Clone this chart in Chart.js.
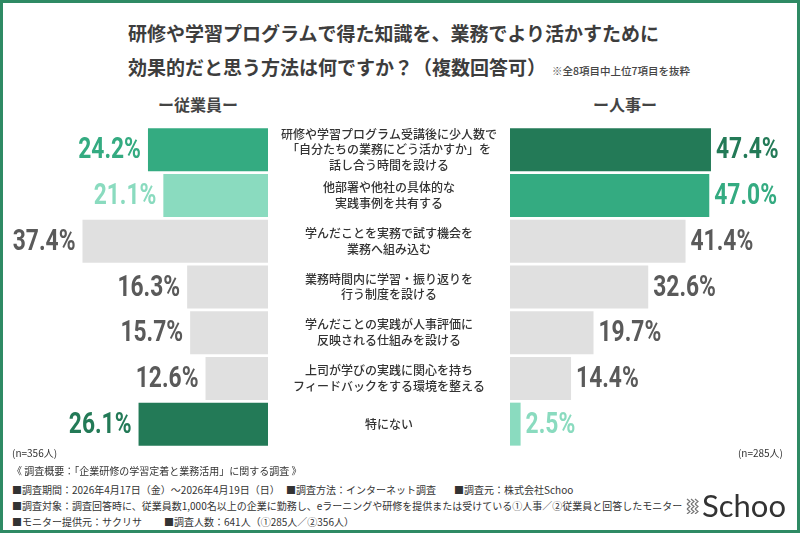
<!DOCTYPE html>
<html><head><meta charset="utf-8">
<script src="https://cdn.jsdelivr.net/npm/chart.js@4/dist/chart.umd.min.js"></script>
<style>
html,body{margin:0;padding:0;background:#fff;}
#page{position:relative;width:800px;height:533px;overflow:hidden;font-family:'Noto Sans CJK JP',sans-serif;color:#333;}
#frame{position:absolute;left:0;top:0;width:800px;height:533px;box-sizing:border-box;border:3px solid #2f8a64;pointer-events:none;}
.abs{position:absolute;white-space:nowrap;}
#title{left:128px;top:16px;font-size:19px;font-weight:700;line-height:34px;color:#3d3d3d;}
#title .note{font-size:10.5px;font-weight:500;margin-left:6px;color:#444;}
.hdr{font-size:16px;font-weight:700;color:#444;top:92px;}
.ft{font-size:10px;color:#333;line-height:14px;}
canvas{position:absolute;}
</style></head>
<body><div id="page">
<div id="title" class="abs">研修や学習プログラムで得た知識を、業務でより活かすために<br>効果的だと思う方法は何ですか？（複数回答可）<span class="note">※全8項目中上位7項目を抜粋</span></div>
<div class="abs hdr" style="left:158px;">ー従業員ー</div>
<div class="abs hdr" style="left:593px;">ー人事ー</div>
<canvas id="left" width="510" height="340" style="left:0;top:117px;"></canvas>
<canvas id="right" width="290" height="340" style="left:510px;top:117px;"></canvas>
<div class="abs ft" style="left:12px;top:446px;">(n=356人)</div>
<div class="abs ft" style="right:17px;top:446px;">(n=285人)</div>
<div class="abs ft" style="left:12px;top:464px;">《 調査概要：「企業研修の学習定着と業務活用」に関する調査 》</div>
<div class="abs ft" style="left:12px;top:483px;">■調査期間：2026年4月17日（金）～2026年4月19日（日）</div>
<div class="abs ft" style="left:286px;top:483px;">■調査方法：インターネット調査</div>
<div class="abs ft" style="left:454px;top:483px;">■調査元：株式会社Schoo</div>
<div class="abs ft" style="left:12px;top:499px;">■調査対象：調査回答時に、従業員数1,000名以上の企業に勤務し、eラーニングや研修を提供または受けている①人事／②従業員と回答したモニター</div>
<div class="abs ft" style="left:12px;top:515px;">■モニター提供元：サクリサ</div>
<div class="abs ft" style="left:164px;top:515px;">■調査人数：641人（①285人／②356人）</div>
<svg class="abs" style="left:686px;top:498px;" width="14" height="16" viewBox="0 0 14 16">
<g fill="none" stroke="#777" stroke-width="1.2">
<polyline points="1,1 4,3.5 1,6"/><polyline points="5,1 8,3.5 5,6"/><polyline points="9,1 12,3.5 9,6"/>
<polyline points="1,6 4,8.5 1,11"/><polyline points="5,6 8,8.5 5,11"/><polyline points="9,6 12,8.5 9,11"/>
<polyline points="1,11 4,13.5 1,16"/><polyline points="5,11 8,13.5 5,16"/><polyline points="9,11 12,13.5 9,16"/>
</g></svg>
<div class="abs" style="left:702px;top:487px;font-family:Lato,'Open Sans',sans-serif;font-size:31px;color:#333;line-height:36px;">Schoo</div>
<div id="frame"></div>
</div>
<script>
const categories = [
  ["研修や学習プログラム受講後に少人数で","「自分たちの業務にどう活かすか」を","話し合う時間を設ける"],
  ["他部署や他社の具体的な","実践事例を共有する"],
  ["学んだことを実務で試す機会を","業務へ組み込む"],
  ["業務時間内に学習・振り返りを","行う制度を設ける"],
  ["学んだことの実践が人事評価に","反映される仕組みを設ける"],
  ["上司が学びの実践に関心を持ち","フィードバックをする環境を整える"],
  "特にない"
];
const employeeValues = [24.2, 21.1, 37.4, 16.3, 15.7, 12.6, 26.1];
const hrValues = [47.4, 47.0, 41.4, 32.6, 19.7, 14.4, 2.5];

const DARK = '#237a57', MID = '#34ab81', LIGHT = '#8adbbf', GRAY = '#e0e0e0', GRAYTXT = '#5a5a5a';
const employeeColors = [MID, LIGHT, GRAY, GRAY, GRAY, GRAY, DARK];
const employeeLabelColors = [MID, LIGHT, GRAYTXT, GRAYTXT, GRAYTXT, GRAYTXT, DARK];
const hrColors = [DARK, MID, GRAY, GRAY, GRAY, GRAY, LIGHT];
const hrLabelColors = [DARK, MID, GRAYTXT, GRAYTXT, GRAYTXT, GRAYTXT, LIGHT];

const valueFont = "bold 30px Roboto, sans-serif";
const SQUEEZE = 0.76;

function valuePlugin(side, colors) {
  return {
    id: 'values_' + side,
    afterDatasetsDraw(chart) {
      const ctx = chart.ctx;
      const meta = chart.getDatasetMeta(0);
      const data = chart.data.datasets[0].data;
      meta.data.forEach((bar, i) => {
        const txt = data[i].toFixed(1) + '%';
        ctx.save();
        ctx.font = valueFont;
        ctx.textBaseline = 'middle';
        ctx.fillStyle = colors[i];
        const ax = side === 'left' ? bar.x - 7 : bar.x + 5;
        ctx.translate(ax, bar.y + 1);
        ctx.scale(SQUEEZE, 1);
        ctx.textAlign = side === 'left' ? 'right' : 'left';
        ctx.fillText(txt, 0, 0);
        ctx.restore();
      });
    }
  };
}

Chart.defaults.animation = false;

new Chart(document.getElementById('left'), {
  type: 'bar',
  data: { labels: categories, datasets: [{ data: employeeValues, backgroundColor: employeeColors, borderWidth: 0, barPercentage: 0.94, categoryPercentage: 1 }] },
  options: {
    indexAxis: 'y', responsive: false,
    layout: { padding: { left: 20, right: 0, top: 10, bottom: 10 } },
    plugins: { legend: { display: false }, tooltip: { enabled: false } },
    scales: {
      x: { display: false, reverse: true, min: 0, max: 50 },
      y: {
        position: 'right',
        grid: { display: false, drawTicks: false },
        border: { display: false },
        ticks: { autoSkip: false, crossAlign: 'center', padding: 13, color: '#333', font: { family: "'Noto Sans CJK JP'", size: 12, weight: 500, lineHeight: 1.3 } },
        afterFit(scale) { scale.width = 242; scale.paddingTop = 0; scale.paddingBottom = 0; }
      }
    }
  },
  plugins: [valuePlugin('left', employeeLabelColors)]
});

new Chart(document.getElementById('right'), {
  type: 'bar',
  data: { labels: categories, datasets: [{ data: hrValues, backgroundColor: hrColors, borderWidth: 0, barPercentage: 0.94, categoryPercentage: 1 }] },
  options: {
    indexAxis: 'y', responsive: false,
    layout: { padding: { left: 0, right: 78, top: 10, bottom: 10 } },
    plugins: { legend: { display: false }, tooltip: { enabled: false } },
    scales: {
      x: { display: false, min: 0, max: 50 },
      y: { display: false }
    }
  },
  plugins: [valuePlugin('right', hrLabelColors)]
});
</script>
</body></html>
